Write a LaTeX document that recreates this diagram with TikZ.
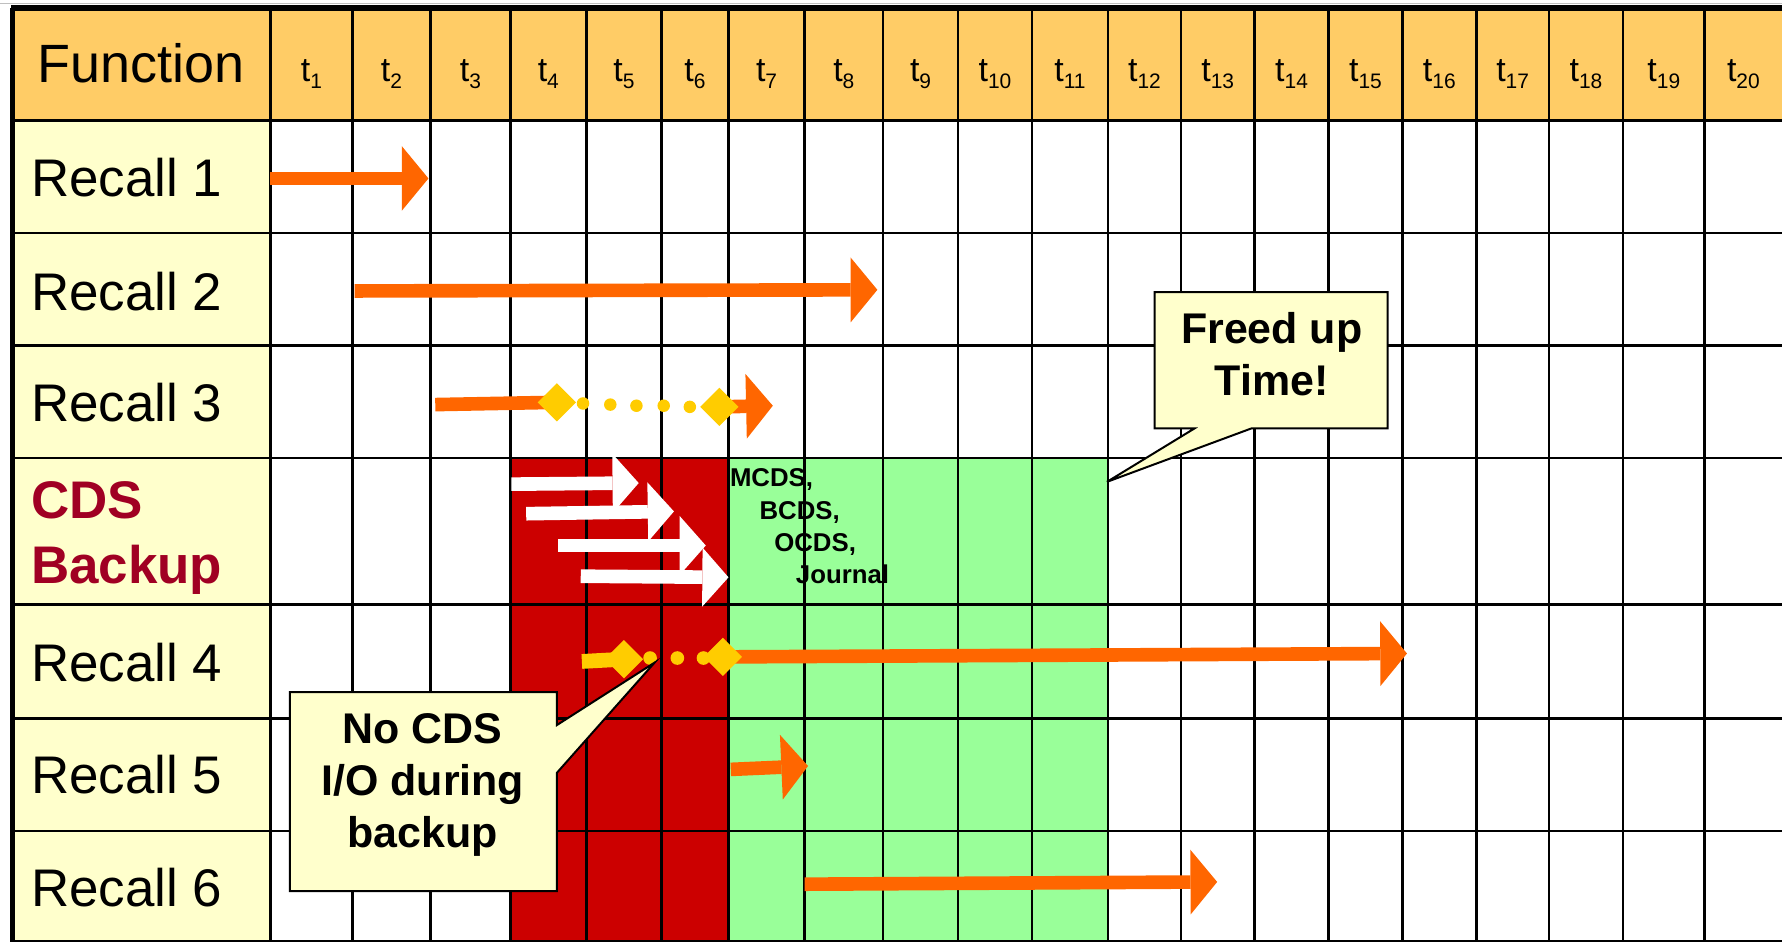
\documentclass[tikz,border=0pt]{standalone}
\usepackage{fontspec}
\setmainfont{Liberation Sans}
\usetikzlibrary{arrows.meta, shapes.geometric}

\definecolor{headfill}{HTML}{FFCC66}
\definecolor{labelfill}{HTML}{FFFFCC}
\definecolor{backupred}{HTML}{CC0000}
\definecolor{freedgreen}{HTML}{99FF99}
\definecolor{barorange}{HTML}{FF6600}
\definecolor{msyellow}{HTML}{FFCC00}
\definecolor{cdstext}{RGB}{160,0,35}

\begin{document}
\begin{tikzpicture}[
    x=0.2mm, y=-0.2mm,
    gridline/.style={line width=0.45mm},
    rowlabel/.style={anchor=base west, inner sep=0pt, font=\fontsize{26.5}{32}\selectfont},
    tlabel/.style={anchor=base, inner sep=0pt, font=\fontsize{17}{20}\selectfont},
    bar/.style={draw=barorange, line width=2.4mm, -{Triangle[length=4.7mm, width=11.4mm, line width=0pt]}},
    plainbar/.style={draw=barorange, line width=2.4mm},
    copyarrow/.style={draw=white, line width=2.4mm, -{Triangle[length=4.6mm, width=10.4mm, line width=0pt]}},
    milestone/.style={diamond, fill=msyellow, inner sep=0pt, minimum size=6.8mm},
    note/.style={draw, fill=labelfill, line width=0.35mm},
    notetext/.style={align=center, inner sep=0pt, font=\bfseries\fontsize{21.5}{26}\selectfont},
    dslabel/.style={anchor=base west, inner sep=0pt, font=\bfseries\fontsize{12.9}{15}\selectfont}
]
    \useasboundingbox (0,0) rectangle (1568,829);

    % Backgrounds
    \fill[headfill] (10,10) rectangle (1568,106);
    \fill[labelfill] (10,106) rectangle (238,829);
    \fill[backupred] (449,403) rectangle (641,829);
    \fill[freedgreen] (641,403) rectangle (975,829);

    % Grid and time slots
    \foreach \xa/\xb [count=\i] in {238/310,310/379,379/449,449/516,516/582,582/641,641/708,708/777,777/843,843/908,908/975,975/1039,1039/1104,1104/1169,1169/1234,1234/1299,1299/1363,1363/1428,1428/1500,1500/1568}{
        \draw[gridline] (\xa,10) -- (\xa,829);
        \node[tlabel] (t\i) at ({(\xa+\xb)/2},72) {t\raisebox{-1.1mm}{\fontsize{10.5}{12}\selectfont\i}};
    }
    \foreach \y in {106,205,304,403,532,632,731,828}
        \draw[gridline] (10,\y) -- (1568,\y);
    \draw[line width=0.65mm] (238,10) -- (238,829);
    \draw[gray!50, line width=0.25mm] (0,3) -- (1568,3);
    \draw[line width=1mm] (10,7) -- (1568,7);
    \draw[line width=0.9mm] (11,7) -- (11,829);

    % Function column
    \node[anchor=base, inner sep=0pt, font=\fontsize{27}{32}\selectfont] (func) at (124,73) {Function};
    \foreach \n/\y in {1/173,2/273,3/371,4/600,5/698,6/798}
        \node[rowlabel] (recall\n) at (27,\y) {Recall \n};
    \node[rowlabel, font=\bfseries\fontsize{26.5}{32}\selectfont, text=cdstext] (cds) at (27,456) {CDS};
    \node[rowlabel, font=\bfseries\fontsize{26.5}{32}\selectfont, text=cdstext] (backup) at (27,513) {Backup};

    % Data sets copied during backup
    \node[dslabel] (mcds) at (642,428) {MCDS,};
    \node[dslabel] (bcds) at (668,457) {BCDS,};
    \node[dslabel] (ocds) at (681,485) {OCDS,};
    \node[dslabel] (journal) at (700,513) {Journal};

    \draw[copyarrow] (450,426) -- (562,425);
    \draw[copyarrow] (463,452) -- (593,450);
    \draw[copyarrow] (491,480) -- (621,480);
    \draw[copyarrow] (511,507) -- (641,508);

    % Recall 1, 2
    \coordinate (r1s) at (238,157);
    \coordinate (r1e) at (377,157);
    \draw[bar] (r1s) -- (r1e);
    \coordinate (r2s) at (312,256);
    \coordinate (r2e) at (772,255);
    \draw[bar] (r2s) -- (r2e);

    % Recall 3
    \coordinate (r3s) at (383,356);
    \coordinate (r3p) at (490,354);
    \coordinate (r3q) at (633,358);
    \coordinate (r3e) at (680,357);
    \draw[plainbar] (r3s) -- (r3p);
    \draw[bar] (r3q) -- (r3e);
    \foreach \x/\y in {513/355,537/356,560/357,584/357,607/358}
        \fill[msyellow] (\x,\y) circle (5.5);
    \node[milestone] (r3a) at (r3p) {};
    \node[milestone] (r3b) at (r3q) {};

    % Recall 4
    \coordinate (r4s) at (512,582);
    \coordinate (r4p) at (549,580);
    \coordinate (r4q) at (636,578);
    \coordinate (r4e) at (1238,575);
    \draw[msyellow, line width=2.6mm] (r4s) -- (r4p);
    \draw[bar] (r4q) -- (r4e);
    \foreach \x in {572,596,619}
        \fill[msyellow] (\x,579) circle (6);
    \node[milestone] (r4a) at (r4p) {};
    \node[milestone] (r4b) at (r4q) {};

    % Recall 5, 6
    \coordinate (r5s) at (643,677);
    \coordinate (r5e) at (711,674);
    \draw[bar] (r5s) -- (r5e);
    \coordinate (r6s) at (708,778);
    \coordinate (r6e) at (1071,776);
    \draw[bar] (r6s) -- (r6e);

    % Callouts
    \draw[note] (1016,257) -- (1221,257) -- (1221,377) -- (1101,377) -- (974,424) -- (1051,377) -- (1016,377) -- cycle;
    \node[notetext] (freed) at (1119,312) {Freed up\\Time!};
    \draw[note] (255,609) -- (490,609) -- (490,638) -- (576,583) -- (490,680) -- (490,784) -- (255,784) -- cycle;
    \node[notetext] (nocds) at (372,691) {No CDS\\I/O during\\backup};
\end{tikzpicture}
\end{document}
